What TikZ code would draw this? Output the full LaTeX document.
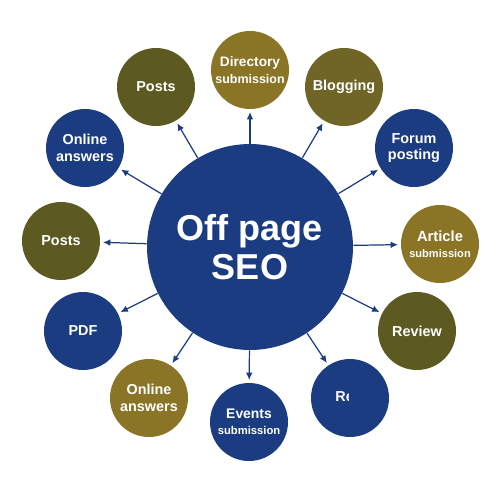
\documentclass[tikz,border=0pt]{standalone}
\usepackage{fontspec}
\setmainfont{Liberation Sans}
\usetikzlibrary{arrows.meta}
\definecolor{navy}{HTML}{1C3C82}
\definecolor{gold}{HTML}{8A7426}
\definecolor{olive}{HTML}{5D5A21}
\definecolor{midolive}{HTML}{6E6526}
\tikzset{
  hub/.style={circle,fill=navy,minimum size=4.12cm,inner sep=0pt,text=white,align=center,
    font=\bfseries\fontsize{20.5}{22}\selectfont},
  sat/.style={circle,minimum size=1.56cm,inner sep=0pt,text=white,align=center,
    font=\bfseries\fontsize{8.2}{9.4}\selectfont},
  link/.style={navy,line width=0.7pt,-{Latex[length=4.2pt,width=3.8pt]},shorten >=1.5pt}
}
\begin{document}
\begin{tikzpicture}[x=0.02cm,y=-0.02cm]
\useasboundingbox (0,0) rectangle (500,500);
\node[hub] (seo) at (250,247) {Off page\\SEO};
\node[sat,fill=gold] (dir) at (250,70) {{\fontsize{7.8}{9.4}\selectfont Directory}\\{\fontsize{7.1}{9.4}\selectfont submission}};
\node[sat,fill=midolive] (blog) at (344,87) {Blogging};
\node[sat,fill=navy] (forum) at (414,148) {Forum\\posting};
\node[sat,fill=gold] (article) at (440,244) {{\fontsize{8.4}{9.4}\selectfont Article}\\{\fontsize{6.3}{8}\selectfont submission}};
\node[sat,fill=olive] (review) at (417,331) {Review};
\node[sat,fill=navy] (ri) at (350,398) {};
\node[sat,fill=navy] (events) at (249,422) {{\fontsize{7.9}{9.4}\selectfont Events}\\{\fontsize{6.4}{8.5}\selectfont submission}};
\node[sat,fill=gold] (answersb) at (149,398) {Online\\answers};
\node[sat,fill=navy] (pdf) at (83,331) {PDF};
\node[sat,fill=olive] (postsl) at (61,241) {Posts};
\node[sat,fill=navy] (answerst) at (85,148) {Online\\answers};
\node[sat,fill=olive] (postst) at (156,87) {Posts};
\begin{scope}
\clip (330,385) rectangle (348,410);
\node[anchor=west,inner sep=0pt,text=white,font=\bfseries\fontsize{8.2}{9.4}\selectfont] (rilabel) at (335,397) {Re};
\end{scope}
\draw[link] (seo) -- (dir);
\draw[link] (seo) -- (blog);
\draw[link] (seo) -- (forum);
\draw[link] (seo) -- (article);
\draw[link] (seo) -- (review);
\draw[link] (seo) -- (ri);
\draw[link] (seo) -- (events);
\draw[link] (seo) -- (answersb);
\draw[link] (seo) -- (pdf);
\draw[link] (seo) -- (postsl);
\draw[link] (seo) -- (answerst);
\draw[link] (seo) -- (postst);
\end{tikzpicture}
\end{document}
